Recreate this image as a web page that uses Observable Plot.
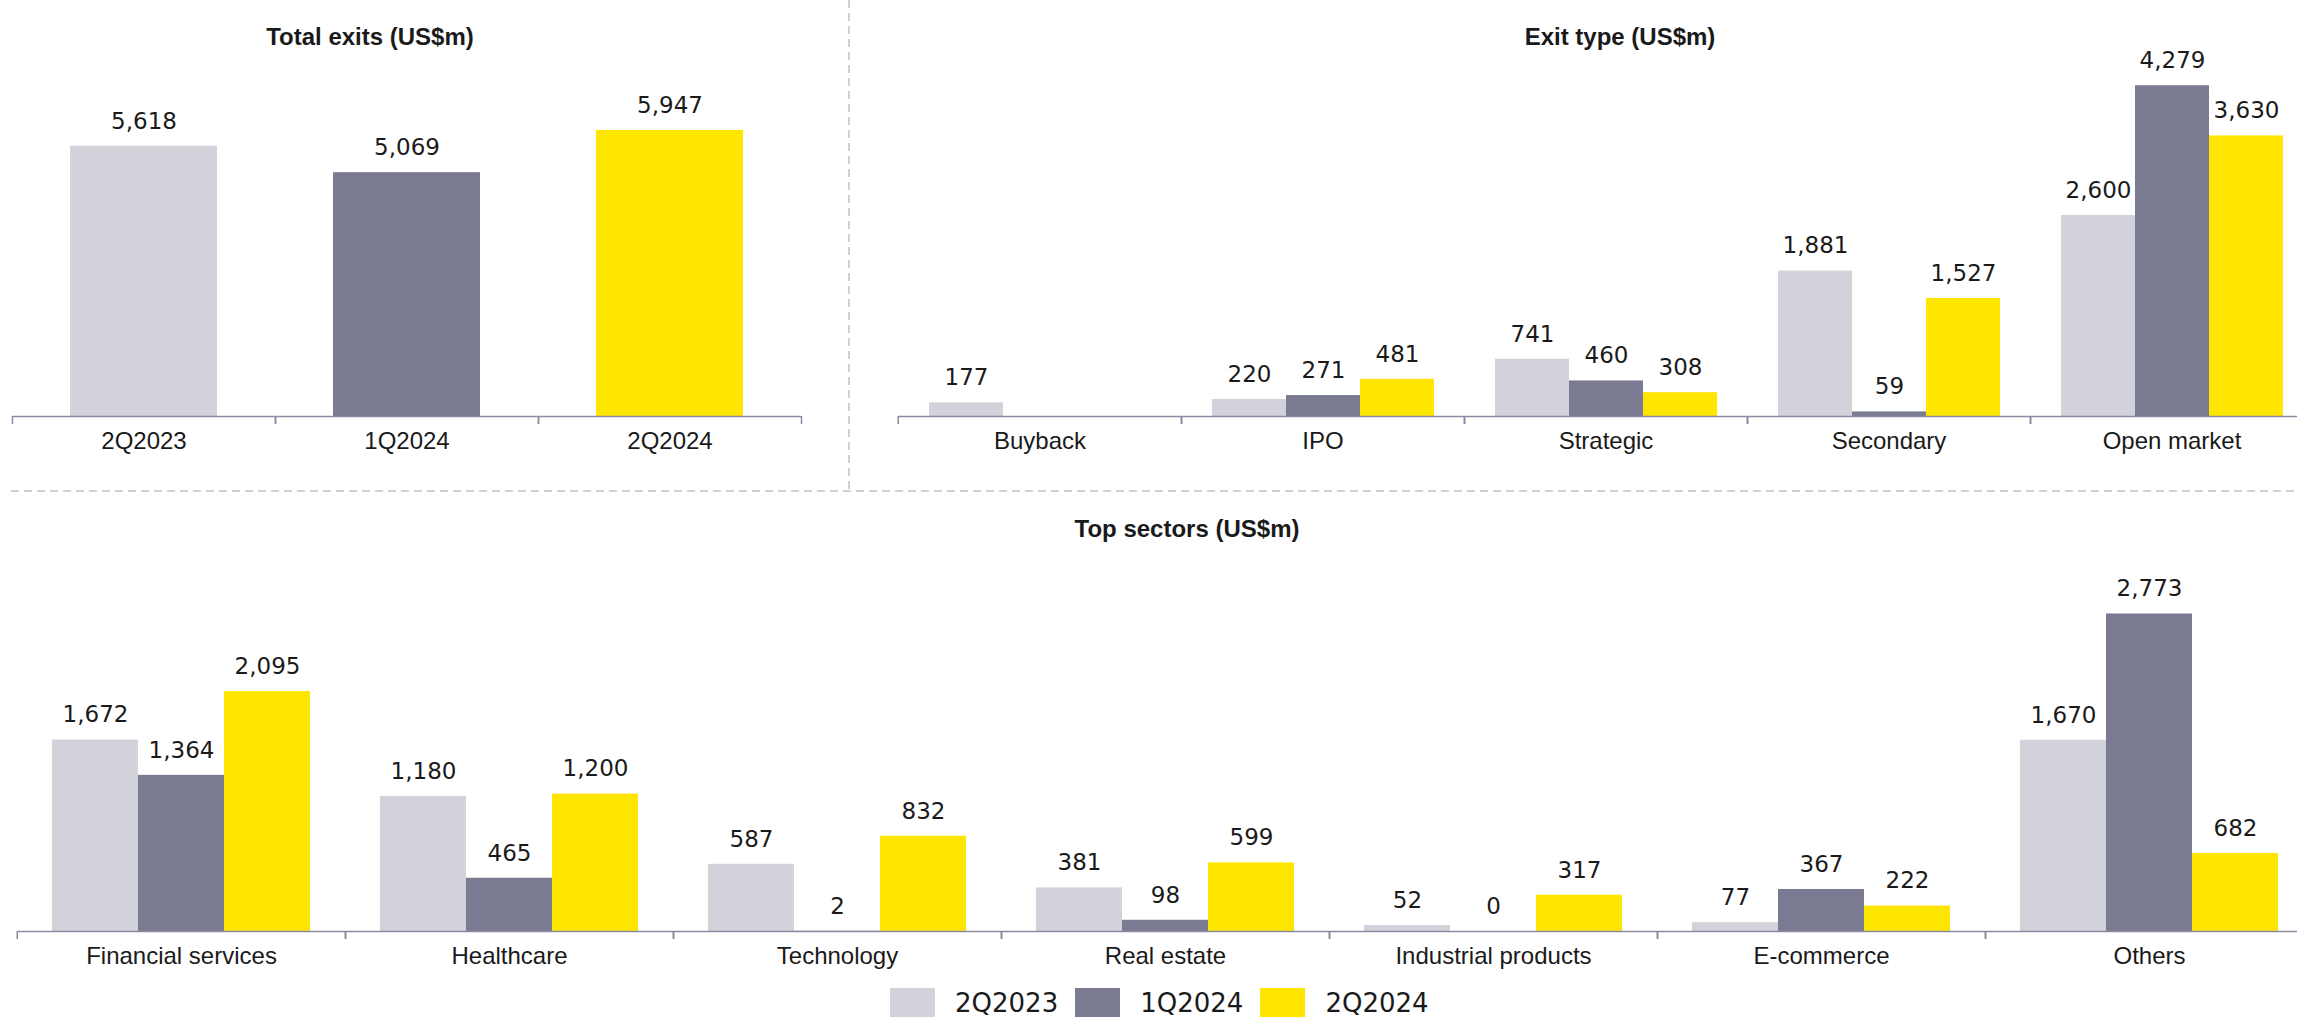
<!DOCTYPE html>
<html>
<head>
<meta charset="utf-8">
<script src="https://cdn.jsdelivr.net/npm/d3@7"></script>
<script src="https://cdn.jsdelivr.net/npm/@observablehq/plot@0.6"></script>
<style>
  html, body { margin: 0; padding: 0; background: #ffffff; }
  #root { position: relative; width: 2297px; height: 1017px; overflow: hidden;
          font-family: "Liberation Sans", Arial, sans-serif; color: #1a1a1a; }
  .panel { position: absolute; max-width: none !important; }
  .title { position: absolute; font-weight: 700; font-size: 24px; line-height: 1;
           white-space: nowrap; transform: translate(-50%, -50%); color: #1a1a1a; }
  .legend { position: absolute; display: flex; align-items: flex-start; }
  .legend .sw { width: 45px; height: 32px; margin-right: 20px; }
  .legend .lb { font-family: "DejaVu Sans", sans-serif; font-size: 26px; line-height: 28px;
                margin-top: 1px; margin-right: 17px; color: #1a1a1a; }
</style>
</head>
<body>
<div id="root"></div>
<script>
// ---------------- data ----------------
const periods = ["2Q2023", "1Q2024", "2Q2024"];
const periodColors = ["#d2d2da", "#7a7a92", "#ffe600"];

const totalExits = [5618, 5069, 5947];

const exitTypes = ["Buyback", "IPO", "Strategic", "Secondary", "Open market"];
const exit2Q2023 = [177, 220, 741, 1881, 2600];
const exit1Q2024 = [null, 271, 460, 59, 4279];
const exit2Q2024 = [null, 481, 308, 1527, 3630];

const sectors = ["Financial services", "Healthcare", "Technology", "Real estate",
                 "Industrial products", "E-commerce", "Others"];
const sector2Q2023 = [1672, 1180, 587, 381, 52, 77, 1670];
const sector1Q2024 = [1364, 465, 2, 98, 0, 367, 2773];
const sector2Q2024 = [2095, 1200, 832, 599, 317, 222, 682];

const titles = ["Total exits (US$m)", "Exit type (US$m)", "Top sectors (US$m)"];

// ---------------- tables ----------------
const totalData = periods.map((p, i) => ({period: p, value: totalExits[i]}));
function grouped(cats, seriesArrays) {
  const out = [];
  cats.forEach((c, i) => {
    periods.forEach((p, j) => {
      const v = seriesArrays[j][i];
      if (v !== null && v !== undefined) out.push({category: c, period: p, value: v});
    });
  });
  return out;
}
const exitData = grouped(exitTypes, [exit2Q2023, exit1Q2024, exit2Q2024]);
const sectorData = grouped(sectors, [sector2Q2023, sector1Q2024, sector2Q2024]);

// ---------------- style ----------------
const fmt = d3.format(",");
const axisColor = "#8a8aa2";
const tickFont = "'Liberation Sans', Arial, sans-serif";
const valueFont = "'DejaVu Sans', sans-serif";
const baseStyle = {fontFamily: tickFont, fontSize: "24px", color: "#1a1a1a",
                   background: "transparent", overflow: "visible", maxWidth: "none"};

const root = document.getElementById("root");

// dashed separators
const sep = d3.select(root).append("svg")
  .attr("width", 2297).attr("height", 1017)
  .style("position", "absolute").style("left", "0px").style("top", "0px");
sep.append("line").attr("x1", 11).attr("x2", 2297).attr("y1", 491).attr("y2", 491)
  .attr("stroke", "#d0d0d8").attr("stroke-width", 2).attr("stroke-dasharray", "8 5");
sep.append("line").attr("x1", 849).attr("x2", 849).attr("y1", 0).attr("y2", 491)
  .attr("stroke", "#d0d0d8").attr("stroke-width", 2).attr("stroke-dasharray", "8 5");

function place(node, left, top) {
  node.classList.add("panel");
  node.style.left = left + "px";
  node.style.top = top + "px";
  node.style.maxWidth = "none";
  root.appendChild(node);
}

// ---------------- panel 1: total exits ----------------
{
  const W = 849, H = 490, base = 416, mL = 12, mR = 48;
  const step = (W - mL - mR) / periods.length;
  const chart = Plot.plot({
    width: W, height: H, marginLeft: mL, marginRight: mR, marginTop: 0, marginBottom: H - base,
    style: baseStyle,
    x: {domain: periods, paddingInner: 0.44, paddingOuter: 0.22, label: null},
    y: {domain: [0, 6000], range: [base, base - 6000 * 0.0481], axis: null},
    color: {domain: periods, range: periodColors},
    marks: [
      Plot.barY(totalData, {x: "period", y: "value", fill: "period"}),
      Plot.ruleY([0], {stroke: axisColor, strokeWidth: 1.5}),
      Plot.axisX({anchor: "bottom", tickSize: 0, tickPadding: 15, label: null, fontSize: 24, fill: "#1a1a1a"}),
      Plot.axisX({anchor: "bottom", tickSize: 8, fill: "none", stroke: axisColor, strokeWidth: 1.5, label: null, dx: -step / 2}),
      Plot.axisX({anchor: "bottom", tickSize: 8, fill: "none", stroke: axisColor, strokeWidth: 1.5, label: null, dx: step / 2}),
      Plot.text(totalData, {x: "period", y: "value", text: d => fmt(d.value), dy: -25,
        lineAnchor: "middle", fontFamily: valueFont, fontSize: 23, fill: "#1a1a1a"})
    ]
  });
  place(chart, 0, 0);
}

// grouped panel builder
function groupedPanel(data, cats, {width, height, base, mL, step, ymax, k}) {
  const mR = width - mL - step * cats.length;
  return Plot.plot({
    width, height, marginLeft: mL, marginRight: mR, marginTop: 0, marginBottom: height - base,
    style: baseStyle,
    fx: {domain: cats, padding: 0, label: null},
    x: {domain: periods, paddingInner: 0, paddingOuter: 0.39, axis: null},
    y: {domain: [0, ymax], range: [base, base - ymax * k], axis: null},
    color: {domain: periods, range: periodColors},
    marks: [
      Plot.barY(data, {fx: "category", x: "period", y: "value", fill: "period"}),
      Plot.ruleY([0], {stroke: axisColor, strokeWidth: 1.5}),
      Plot.axisFx({anchor: "bottom", tickSize: 0, tickPadding: 15, label: null, fontSize: 24, fill: "#1a1a1a"}),
      Plot.axisFx({anchor: "bottom", tickSize: 8, fill: "none", stroke: axisColor, strokeWidth: 1.5, label: null, dx: -step / 2}),
      Plot.axisFx({anchor: "bottom", tickSize: 8, fill: "none", stroke: axisColor, strokeWidth: 1.5, label: null, dx: step / 2}),
      Plot.text(data, {fx: "category", x: "period", y: "value", text: d => fmt(d.value), dy: -25,
        lineAnchor: "middle", fontFamily: valueFont, fontSize: 23, fill: "#1a1a1a"})
    ]
  });
}

// ---------------- panel 2: exit type ----------------
{
  const chart = groupedPanel(exitData, exitTypes,
    {width: 1471, height: 490, base: 416, mL: 48, step: 283.5, ymax: 4500, k: 0.0773});
  place(chart, 849, 0);
}

// ---------------- panel 3: top sectors ----------------
{
  const chart = groupedPanel(sectorData, sectors,
    {width: 2320, height: 526, base: 440, mL: 15, step: 328.5, ymax: 3000, k: 0.1145});
  place(chart, 0, 491);
}

// ---------------- titles ----------------
const titlePos = [[370, 37], [1620, 37], [1187, 529]];
titles.forEach((t, i) => {
  const d = document.createElement("div");
  d.className = "title";
  d.textContent = t;
  d.style.left = titlePos[i][0] + "px";
  d.style.top = titlePos[i][1] + "px";
  root.appendChild(d);
});

// ---------------- legend ----------------
const legend = document.createElement("div");
legend.className = "legend";
legend.style.left = "890px";
legend.style.top = "988px";
periods.forEach((p, i) => {
  const sw = document.createElement("div");
  sw.className = "sw";
  sw.style.background = periodColors[i];
  const lb = document.createElement("div");
  lb.className = "lb";
  lb.textContent = p;
  legend.appendChild(sw);
  legend.appendChild(lb);
});
root.appendChild(legend);
</script>
</body>
</html>
